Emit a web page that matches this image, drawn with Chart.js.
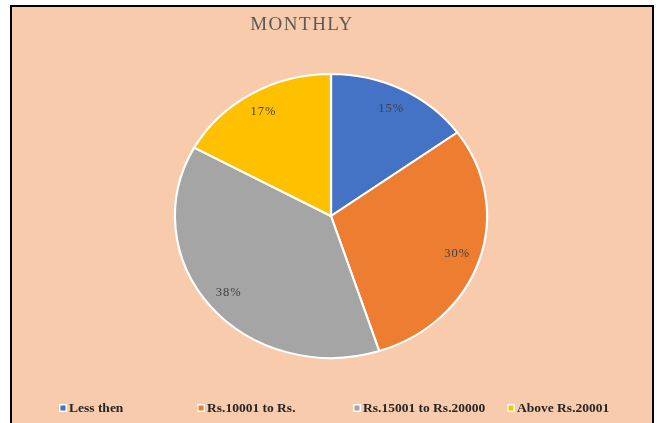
<!DOCTYPE html>
<html>
<head>
<meta charset="utf-8">
<script src="https://cdn.jsdelivr.net/npm/chart.js@4"></script>
<style>
  body { margin: 0; background: #ffffff; }
  #frame {
    position: absolute; left: 10px; top: 5px; width: 640px; height: 430px;
    background: #F8CBAD; border: 2px solid #000; border-bottom: none;
  }
  #pie { position: absolute; left: 0; top: 0; }
</style>
</head>
<body>
<div id="frame"></div>
<canvas id="pie" width="657" height="423"></canvas>
<script>
// chart values
const chartTitle = 'MONTHLY';
const categories = ['Less then', 'Rs.10001 to Rs.', 'Rs.15001 to Rs.20000', 'Above Rs.20001'];
const shares = [15, 30, 38, 17];
const sliceColors = ['#4472C4', '#ED7D31', '#A5A5A5', '#FFC000'];

const stretchX = 1.099; // the original pie is a bit wider than tall
const legendStart = [59, 197, 353, 507];

// squash the arcs sideways so the pie becomes an ellipse
const ellipsePlugin = {
    id: 'ellipse',
    beforeDatasetsDraw(chart) {
        const cx = chart.getDatasetMeta(0).data[0].x;
        const ctx = chart.ctx;
        ctx.save();
        ctx.translate(cx, 0);
        ctx.scale(stretchX, 1);
        ctx.translate(-cx, 0);
    },
    afterDatasetsDraw(chart) {
        chart.ctx.restore();
    }
};

// percentage labels, title and legend
const textPlugin = {
    id: 'texts',
    afterDraw(chart) {
        const ctx = chart.ctx;
        const arcs = chart.getDatasetMeta(0).data;
        ctx.save();
        ctx.font = '12.5px "Liberation Serif", serif';
        ctx.fillStyle = '#404040';
        ctx.textAlign = 'center';
        ctx.textBaseline = 'middle';
        ctx.letterSpacing = '1px';
        arcs.forEach((arc, i) => {
            const mid = (arc.startAngle + arc.endAngle) / 2;
            const r = arc.outerRadius * 0.85;
            const x = arc.x + Math.cos(mid) * r * stretchX;
            const y = arc.y + Math.sin(mid) * r;
            ctx.fillText(shares[i] + '%', x, y);
        });

        // title
        ctx.font = '19px "Liberation Serif", serif';
        ctx.fillStyle = '#595959';
        ctx.letterSpacing = '1.5px';
        ctx.fillText(chartTitle, 302, 25);
        ctx.letterSpacing = '0px';

        // legend
        ctx.font = 'bold 13.5px "Liberation Serif", serif';
        ctx.textAlign = 'left';
        categories.forEach((name, i) => {
            const x = legendStart[i];
            ctx.fillStyle = '#ffffff';
            ctx.fillRect(x, 404, 8, 8);
            ctx.fillStyle = sliceColors[i];
            ctx.fillRect(x + 1.5, 405.5, 5, 5);
            ctx.fillStyle = '#262626';
            ctx.fillText(name, x + 10, 408.5);
        });
        ctx.restore();
    }
};

new Chart(document.getElementById('pie'), {
    type: 'pie',
    data: {
        labels: categories,
        datasets: [{
            data: shares,
            backgroundColor: sliceColors,
            borderColor: '#ffffff',
            borderWidth: 2
        }]
    },
    options: {
        responsive: false,
        animation: false,
        layout: { padding: { top: 73, bottom: 64, left: 100, right: 95 } },
        plugins: {
            legend: { display: false },
            title: { display: false },
            tooltip: { enabled: false }
        }
    },
    plugins: [ellipsePlugin, textPlugin]
});
</script>
</body>
</html>
